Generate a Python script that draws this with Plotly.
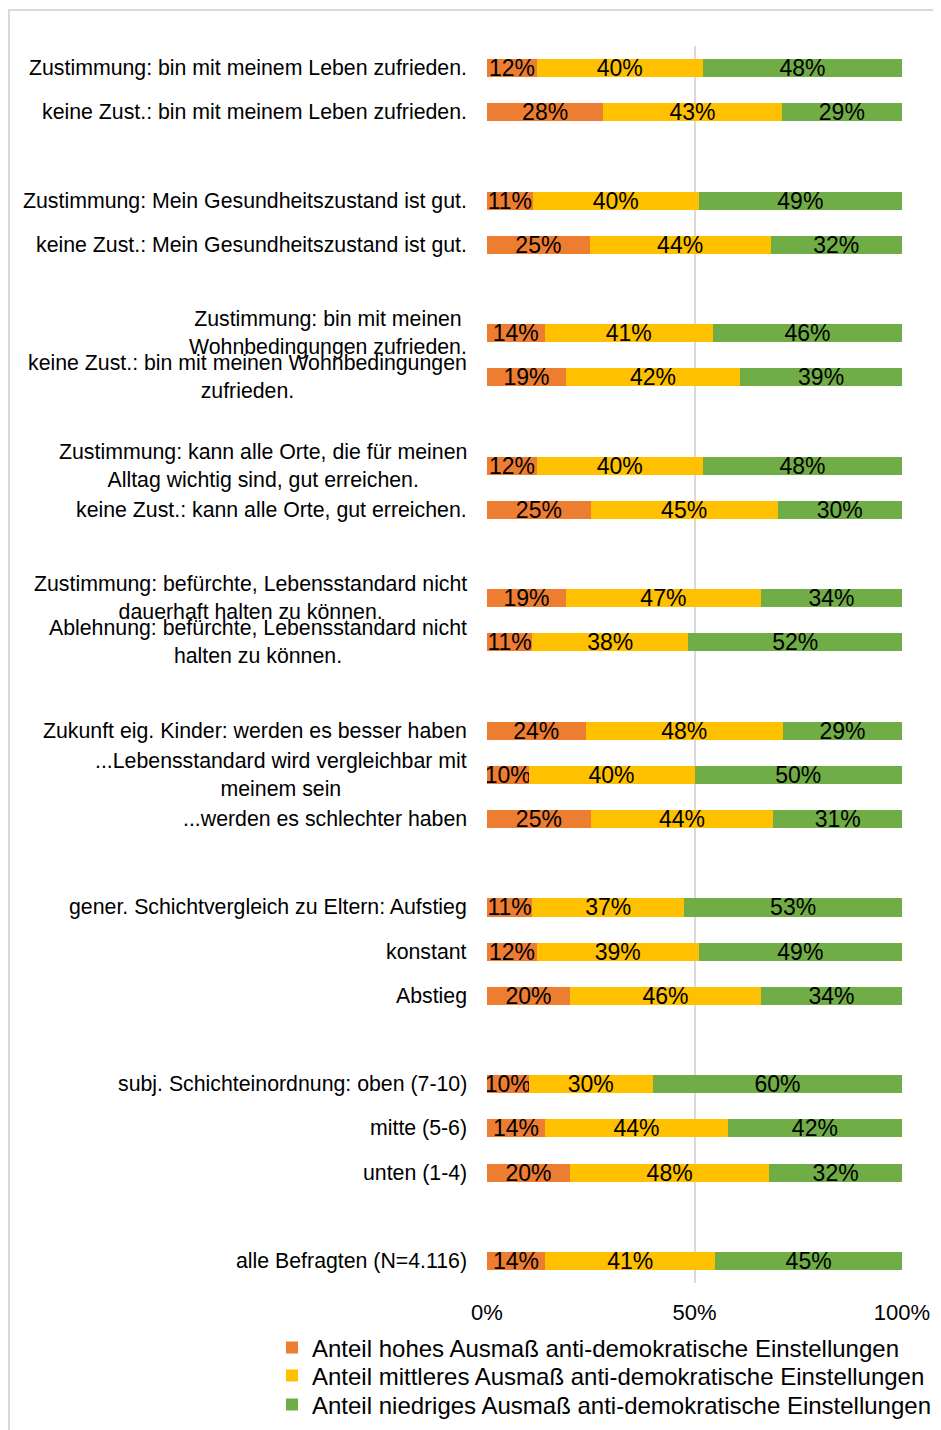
import plotly.graph_objects as go

# ---- data ----
groups = [
    ["Zustimmung: bin mit meinem Leben zufrieden.",
     "keine Zust.: bin mit meinem Leben zufrieden."],
    ["Zustimmung: Mein Gesundheitszustand ist gut.",
     "keine Zust.: Mein Gesundheitszustand ist gut."],
    ["Zustimmung: bin mit meinen<br>Wohnbedingungen zufrieden.",
     "keine Zust.: bin mit meinen Wohnbedingungen<br>zufrieden."],
    ["Zustimmung: kann alle Orte, die für meinen<br>Alltag wichtig sind, gut erreichen.",
     "keine Zust.: kann alle Orte, gut erreichen."],
    ["Zustimmung: befürchte, Lebensstandard nicht<br>dauerhaft halten zu können.",
     "Ablehnung: befürchte, Lebensstandard nicht<br>halten zu können."],
    ["Zukunft eig. Kinder: werden es besser haben",
     "...Lebensstandard wird vergleichbar mit<br>meinem sein",
     "...werden es schlechter haben"],
    ["gener. Schichtvergleich zu Eltern: Aufstieg",
     "konstant",
     "Abstieg"],
    ["subj. Schichteinordnung: oben (7-10)",
     "mitte (5-6)",
     "unten (1-4)"],
    ["alle Befragten (N=4.116)"],
]

hoch = [12, 28, 11, 25, 14, 19, 12, 25, 19, 11, 24, 10, 25, 11, 12, 20, 10, 14, 20, 14]
mittel = [40, 43, 40, 44, 41, 42, 40, 45, 47, 38, 48, 40, 44, 37, 39, 46, 30, 44, 48, 41]
niedrig = [48, 29, 49, 32, 46, 39, 48, 30, 34, 52, 29, 50, 31, 53, 49, 34, 60, 42, 32, 45]

series_names = [
    "Anteil hohes Ausmaß anti-demokratische Einstellungen",
    "Anteil mittleres Ausmaß anti-demokratische Einstellungen",
    "Anteil niedriges Ausmaß anti-demokratische Einstellungen",
]
colors = ["#ED7D31", "#FFC000", "#70AD47"]

tick_vals = [0, 50, 100]
tick_text = ["0%", "50%", "100%"]

# ---- build category order with blank spacer rows between groups ----
labels = [lab for g in groups for lab in g]
cat_order = []
for gi, g in enumerate(groups):
    if gi > 0:
        cat_order.append(f"__gap{gi}")
    cat_order.extend(g)

FONT = "Liberation Sans, Arial, sans-serif"

# page geometry (the html body adds an 8px margin)
OFF = 8
W, H = 941 - OFF, 1430 - OFF
PL, PR, PT, PB = 487, 902, 46, 1283          # plot area in page pixels
L, R, T, B = PL - OFF, W - (PR - OFF), PT - OFF, H - (PB - OFF)
pw, ph = PR - PL, PB - PT

def px_x(p):
    return (p - PL) / pw

def px_y(p):
    return (PB - p) / ph

fig = go.Figure()
legend_ids = ["legend", "legend2", "legend3"]
for name, vals, col, lid in zip(series_names, [hoch, mittel, niedrig], colors, legend_ids):
    fig.add_trace(go.Bar(
        y=labels, x=vals, name=name, orientation="h",
        marker=dict(color=col, line=dict(width=0)),
        text=[f"{v}%" for v in vals], texttemplate="%{text}",
        textposition="inside", insidetextanchor="middle",
        constraintext="none", textangle=0,
        textfont=dict(family=FONT, size=23, color="black"),
        hoverinfo="skip", legend=lid,
    ))

for lab in labels:
    fig.add_annotation(
        x=0, xref="paper", y=lab, yref="y", text=lab,
        xanchor="right", yanchor="middle", align="center",
        xshift=-18, showarrow=False,
        font=dict(family=FONT, size=21.3, color="black"),
    )

# outer light frame
fig.add_shape(type="rect", xref="paper", yref="paper",
              x0=px_x(9), x1=px_x(960), y0=px_y(1460), y1=px_y(10),
              line=dict(color="#D9D9D9", width=2), fillcolor="rgba(0,0,0,0)",
              layer="below")

legend_centers = [1348, 1376, 1405]
leg_common = dict(orientation="v", xanchor="left", yanchor="middle",
                  font=dict(family=FONT, size=24, color="black"),
                  bgcolor="rgba(0,0,0,0)", itemclick=False, itemdoubleclick=False)
legend_layout = {}
for lid, yc in zip(legend_ids, legend_centers):
    legend_layout[lid] = dict(x=px_x(272), y=px_y(yc), **leg_common)

fig.update_layout(
    width=W, height=H,
    margin=dict(l=L, r=R, t=T, b=B, autoexpand=False),
    barmode="stack", barnorm="percent", bargap=0.59,
    plot_bgcolor="white", paper_bgcolor="white",
    font=dict(family=FONT, color="black"),
    xaxis=dict(range=[0, 100], tickmode="array", tickvals=tick_vals, ticktext=tick_text,
               showgrid=True, gridcolor="#D9D9D9", gridwidth=2,
               zeroline=False, showline=False,
               tickfont=dict(family=FONT, size=22, color="black"),
               ticks="", ticklabelstandoff=14, fixedrange=True),
    yaxis=dict(categoryorder="array", categoryarray=cat_order,
               range=[len(cat_order) - 0.5, -0.5], showticklabels=False,
               showgrid=False, zeroline=False, showline=False, ticks="",
               fixedrange=True),
    showlegend=True,
    **legend_layout,
)

fig.write_html("out.html")
